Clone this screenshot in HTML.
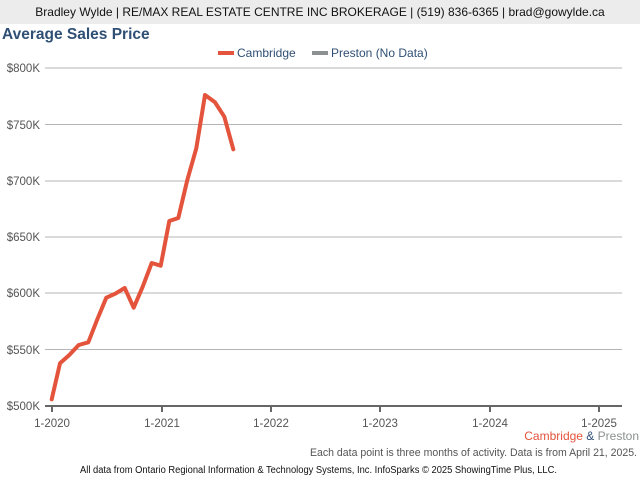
<!DOCTYPE html>
<html><head><style>
body{margin:0;width:640px;height:480px;background:#fff;font-family:"Liberation Sans",Arial,sans-serif;overflow:hidden;position:relative}
.hdr{position:absolute;left:0;top:0;width:640px;height:24px;background:#ececec;color:#111;font-size:12px;line-height:24px;text-align:center}
.t{position:absolute;left:2px;top:26px;font-size:15.5px;font-weight:bold;color:#2f4f75}
</style></head><body>
<div class="hdr">Bradley Wylde | RE/MAX REAL ESTATE CENTRE INC BROKERAGE | (519) 836-6365 | brad@gowylde.ca</div>
<div class="t">Average Sales Price</div>
<svg width="640" height="480" style="position:absolute;left:0;top:0" font-family="Liberation Sans, Arial, sans-serif">
<rect x="218" y="51" width="16" height="4" fill="#e4533b"/>
<text x="237" y="57" font-size="12" fill="#2f4f75">Cambridge</text>
<rect x="312" y="51" width="16" height="4" fill="#8a9190"/>
<text x="331" y="57" font-size="12" fill="#2f4f75">Preston (No Data)</text>
<g stroke="#b5b5b5" stroke-width="1">
<line x1="45" y1="68" x2="622" y2="68"/><line x1="45" y1="124.5" x2="622" y2="124.5"/>
<line x1="45" y1="181" x2="622" y2="181"/><line x1="45" y1="237" x2="622" y2="237"/>
<line x1="45" y1="293" x2="622" y2="293"/><line x1="45" y1="349.5" x2="622" y2="349.5"/>
</g>
<g font-size="11.5" fill="#555" text-anchor="end">
<text x="40" y="72">$800K</text><text x="40" y="129">$750K</text><text x="40" y="185">$700K</text>
<text x="40" y="241">$650K</text><text x="40" y="297">$600K</text><text x="40" y="354">$550K</text><text x="40" y="410">$500K</text>
</g>
<line x1="45" y1="406" x2="622" y2="406" stroke="#666" stroke-width="2"/>
<g stroke="#666" stroke-width="2">
<line x1="52" y1="406" x2="52" y2="412"/><line x1="162" y1="406" x2="162" y2="412"/><line x1="271" y1="406" x2="271" y2="412"/>
<line x1="380" y1="406" x2="380" y2="412"/><line x1="490" y1="406" x2="490" y2="412"/><line x1="599" y1="406" x2="599" y2="412"/>
</g>
<g font-size="11.5" fill="#555" text-anchor="middle">
<text x="52" y="427">1-2020</text><text x="162" y="427">1-2021</text><text x="271" y="427">1-2022</text>
<text x="380" y="427">1-2023</text><text x="490" y="427">1-2024</text><text x="599" y="427">1-2025</text>
</g>
<polyline fill="none" stroke="#e4533b" stroke-width="4" stroke-linejoin="round" stroke-linecap="round"
points="51.7,399.3 60,363.3 69.3,355 78.7,345 88.3,342.3 97.3,319.3 106.3,297.7 115.3,293.7 124.7,288 133.7,307.7 142.7,286.7 151.7,263 160.7,265.7 169.3,221 178.3,218 187.3,180 196.3,148.3 205,95 215,102.3 224.3,116.7 233.3,149.3"/>
<text x="639" y="440" font-size="12" text-anchor="end"><tspan fill="#e4533b">Cambridge</tspan><tspan fill="#2f4f75"> &amp; </tspan><tspan fill="#8a9190">Preston</tspan></text>
<text x="637" y="456" font-size="11" fill="#555" text-anchor="end" textLength="327" lengthAdjust="spacingAndGlyphs">Each data point is three months of activity. Data is from April 21, 2025.</text>
<text x="80" y="473" font-size="10" fill="#111" textLength="477" lengthAdjust="spacingAndGlyphs">All data from Ontario Regional Information &amp; Technology Systems, Inc. InfoSparks © 2025 ShowingTime Plus, LLC.</text>
</svg>
</body></html>
